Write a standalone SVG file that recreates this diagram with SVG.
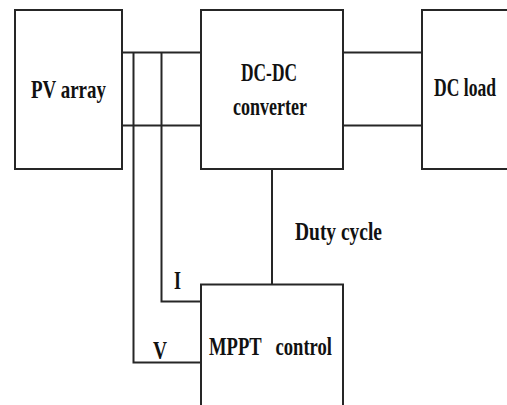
<svg xmlns="http://www.w3.org/2000/svg" width="507" height="405" viewBox="0 0 507 405">
<style>
.box{fill:#fff;stroke:#262626;stroke-width:2}
.ln{fill:none;stroke:#262626;stroke-width:2}
.t{font-family:'Liberation Serif','DejaVu Serif','Times New Roman',serif;font-weight:700;font-size:26px;fill:#111}
</style>
<rect width="507" height="405" fill="#fff"/>
<g id="connectors">
<path class="ln" d="M122 52.5H201M122 125.5H201M343 52.5H422M343 125.5H422"/>
<path class="ln" d="M133.5 52.5V362.5H201M161.5 52.5V301.5H201"/>
<path class="ln" d="M272 169V284.5"/>
</g>
<g id="pv">
<rect class="box" x="15" y="10" width="107" height="159"/>
<text class="t" transform="translate(31,98) scale(0.7,1)" textLength="107" lengthAdjust="spacingAndGlyphs">PV array</text>
</g>
<g id="converter">
<rect class="box" x="201" y="10" width="142" height="159"/>
<text class="t" transform="translate(241,81) scale(0.7,1)" textLength="80" lengthAdjust="spacingAndGlyphs">DC-DC</text>
<text class="t" transform="translate(233,115) scale(0.7,1)" textLength="105.7" lengthAdjust="spacingAndGlyphs">converter</text>
</g>
<g id="load">
<rect class="box" x="422" y="10" width="86" height="159"/>
<text class="t" transform="translate(434,96) scale(0.7,1)" textLength="88.6" lengthAdjust="spacingAndGlyphs">DC load</text>
</g>
<g id="mppt">
<rect class="box" x="201" y="284.5" width="142" height="140"/>
<text class="t" transform="translate(209,355) scale(0.7,1)" textLength="175.7" lengthAdjust="spacingAndGlyphs">MPPT&#160;&#160; control</text>
</g>
<g id="labels">
<text class="t" transform="translate(295,240) scale(0.7,1)" textLength="124.3" lengthAdjust="spacingAndGlyphs">Duty cycle</text>
<text class="t" transform="translate(174,289) scale(0.7,1)" textLength="10" lengthAdjust="spacingAndGlyphs">I</text>
<text class="t" transform="translate(153,359) scale(0.7,1)" textLength="20" lengthAdjust="spacingAndGlyphs">V</text>
</g>
</svg>
